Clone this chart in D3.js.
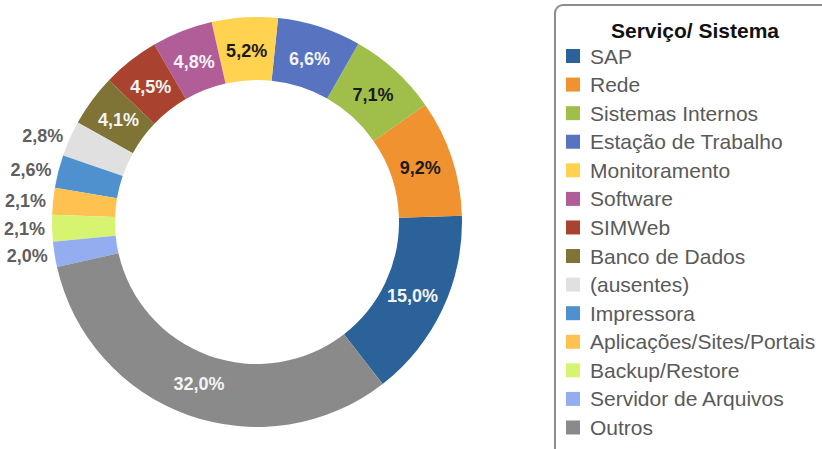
<!DOCTYPE html>
<html>
<head>
<meta charset="utf-8">
<script src="https://cdn.jsdelivr.net/npm/d3@7"></script>
<style>
  body { margin: 0; background: #fff; }
  svg { display: block; font-family: "Liberation Sans", Arial, sans-serif; }
</style>
</head>
<body>
<div id="chart-area"></div>
<script>
/* Donut - Serviço/ Sistema */

// data (legend order)
const categories = ["SAP", "Rede", "Sistemas Internos", "Estação de Trabalho", "Monitoramento",
    "Software", "SIMWeb", "Banco de Dados", "(ausentes)", "Impressora",
    "Aplicações/Sites/Portais", "Backup/Restore", "Servidor de Arquivos", "Outros"]
const values = [15.0, 9.2, 7.1, 6.6, 5.2, 4.8, 4.5, 4.1, 2.8, 2.6, 2.1, 2.1, 2.0, 32.0]
const labels = ["15,0%", "9,2%", "7,1%", "6,6%", "5,2%", "4,8%", "4,5%", "4,1%", "2,8%", "2,6%", "2,1%", "2,1%", "2,0%", "32,0%"]
const colors = ["#2b6299", "#f0922f", "#a0bf4a", "#5873bf", "#ffd250", "#b15e98", "#a9432f",
    "#7f7335", "#e0e0e0", "#4f91cf", "#ffc150", "#d6f470", "#94adf0", "#8a8a8a"]
const labelColors = ["#f4f4f4", "#1a1a1a", "#1a1a1a", "#f4f4f4", "#1a1a1a", "#f4f4f4", "#f4f4f4",
    "#f4f4f4", "#5f5f5f", "#5f5f5f", "#5f5f5f", "#5f5f5f", "#5f5f5f", "#f4f4f4"]

const WIDTH = 822
const HEIGHT = 449
const CX = 257, CY = 222
const R_OUT = 205, R_IN = 142

const svg = d3.select("#chart-area").append("svg")
    .attr("width", WIDTH)
    .attr("height", HEIGHT)

const data = categories.map((c, i) => ({ name: c, value: values[i], label: labels[i], color: colors[i], lc: labelColors[i] }))

// slices go counter-clockwise from SAP, ending just above 3 o'clock
const start = 142.2 * Math.PI / 180
const pie = d3.pie()
    .sort(null)
    .value(d => d.value)
    .startAngle(start)
    .endAngle(start - 2 * Math.PI)

const arc = d3.arc().innerRadius(R_IN).outerRadius(R_OUT)
const labelArc = d3.arc().innerRadius(172).outerRadius(172)
const outerArc = d3.arc().innerRadius(R_OUT + 7).outerRadius(R_OUT + 7)

const g = svg.append("g").attr("transform", `translate(${CX},${CY})`)

const arcs = pie(data)

g.selectAll("path.slice")
    .data(arcs)
    .enter().append("path")
    .attr("class", "slice")
    .attr("d", arc)
    .attr("fill", d => d.data.color)

// labels: inside for big slices, outside (left) for small ones
g.selectAll("text.lbl")
    .data(arcs)
    .enter().append("text")
    .attr("class", "lbl")
    .attr("transform", d => {
        const p = d.data.value < 3 ? outerArc.centroid(d) : labelArc.centroid(d)
        return `translate(${p[0]},${p[1]})`
    })
    .attr("dy", "0.35em")
    .attr("text-anchor", d => d.data.value < 3 ? "end" : "middle")
    .attr("fill", d => d.data.lc)
    .style("font-size", "18px")
    .style("font-weight", "bold")
    .text(d => d.data.label)

/* Legend */
const legend = svg.append("g")

legend.append("rect")
    .attr("x", 555)
    .attr("y", 5)
    .attr("width", 300)
    .attr("height", 480)
    .attr("rx", 8)
    .attr("fill", "#fff")
    .attr("stroke", "#8c8c8c")
    .attr("stroke-width", 2)

legend.append("text")
    .attr("x", 695)
    .attr("y", 38)
    .attr("text-anchor", "middle")
    .attr("fill", "#111")
    .style("font-size", "21px")
    .style("font-weight", "bold")
    .text("Serviço/ Sistema")

const ly = d3.scalePoint()
    .domain(categories)
    .range([56, 427.5])

const items = legend.selectAll("g.item")
    .data(data)
    .enter().append("g")
    .attr("class", "item")
    .attr("transform", d => `translate(566,${ly(d.name)})`)

items.append("rect")
    .attr("x", 0)
    .attr("y", -7)
    .attr("width", 14)
    .attr("height", 14)
    .attr("fill", d => d.color)

items.append("text")
    .attr("x", 24)
    .attr("y", 0)
    .attr("dy", "0.36em")
    .attr("fill", "#5a5a5a")
    .style("font-size", "21px")
    .text(d => d.name)
</script>
</body>
</html>
